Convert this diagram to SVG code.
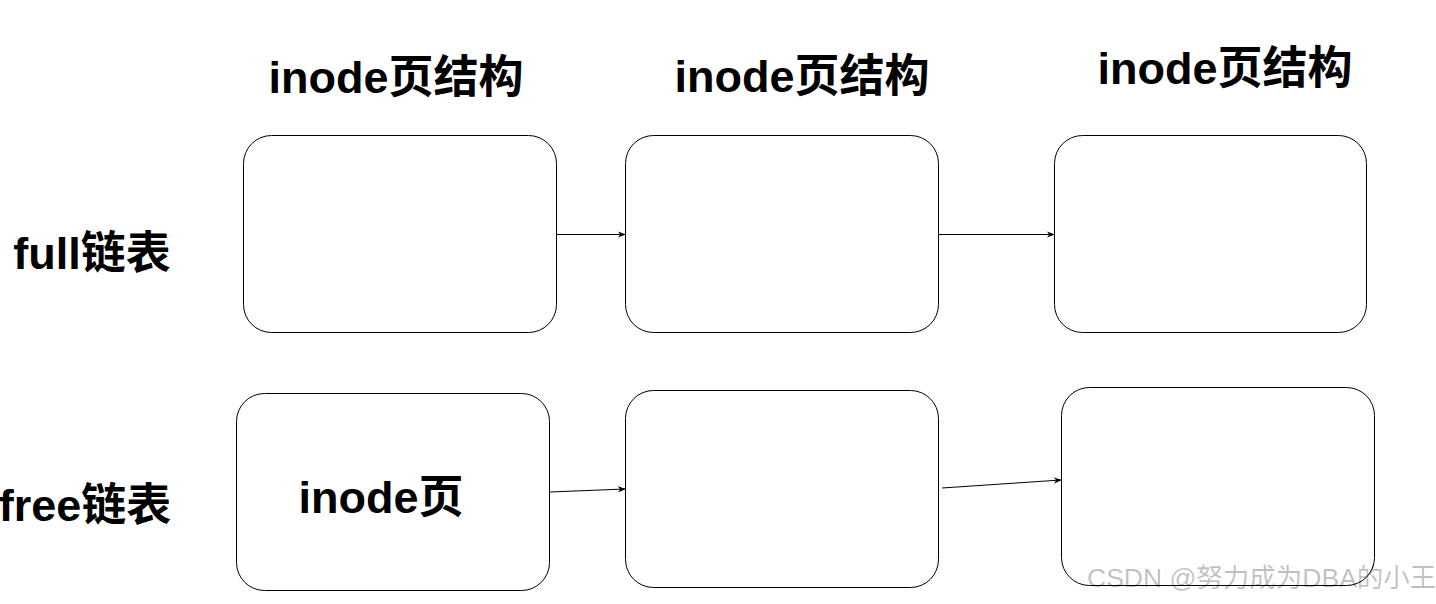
<svg xmlns="http://www.w3.org/2000/svg" width="1436" height="604" viewBox="0 0 1436 604">
<style>
.box{fill:#fff;stroke:#000;stroke-width:1}
.lbl{font-family:"Liberation Sans","Noto Sans CJK SC",sans-serif;font-weight:bold;font-size:45px;fill:#000;text-anchor:middle}
.edge{fill:none;stroke:#000;stroke-width:1;marker-end:url(#arr)}
.wm{font-family:"Liberation Sans","Noto Sans CJK SC",sans-serif;font-size:26.5px;fill:#000;fill-opacity:0.25}
</style>
<defs>
<marker id="arr" viewBox="0 0 10 10" refX="9" refY="5" markerWidth="8" markerHeight="8" orient="auto" markerUnits="userSpaceOnUse">
<path d="M0,1 L10,5 L0,9 L3,5 Z" fill="#000"/>
</marker>
</defs>
<rect width="1436" height="604" fill="#fff"/>
<g id="headers">
<text class="lbl" x="396" y="93">inode页结构</text>
<text class="lbl" x="802" y="92">inode页结构</text>
<text class="lbl" x="1225" y="84">inode页结构</text>
</g>
<g id="row-labels">
<text class="lbl" x="92" y="269">full链表</text>
<text class="lbl" x="85" y="521">free链表</text>
</g>
<g id="full1"><rect class="box" x="243.5" y="135.5" width="313" height="197" rx="28"/></g>
<g id="full2"><rect class="box" x="625.5" y="135.5" width="313" height="197" rx="28"/></g>
<g id="full3"><rect class="box" x="1054.5" y="135.5" width="312" height="197" rx="28"/></g>
<g id="free1"><rect class="box" x="236.5" y="393.5" width="313" height="197" rx="28"/>
<text class="lbl" x="381" y="513">inode页</text></g>
<g id="free2"><rect class="box" x="625.5" y="390.5" width="313" height="197" rx="28"/></g>
<g id="free3"><rect class="box" x="1061.5" y="387.5" width="313" height="198" rx="28"/></g>
<g id="connectors">
<line class="edge" x1="557" y1="234.5" x2="625" y2="234.5"/>
<line class="edge" x1="939" y1="234.5" x2="1054" y2="234.5"/>
<line class="edge" x1="550" y1="492" x2="625" y2="489"/>
<line class="edge" x1="942" y1="488" x2="1061" y2="480"/>
</g>
<text class="wm" x="1087" y="587">CSDN @努力成为DBA的小王</text>
</svg>
